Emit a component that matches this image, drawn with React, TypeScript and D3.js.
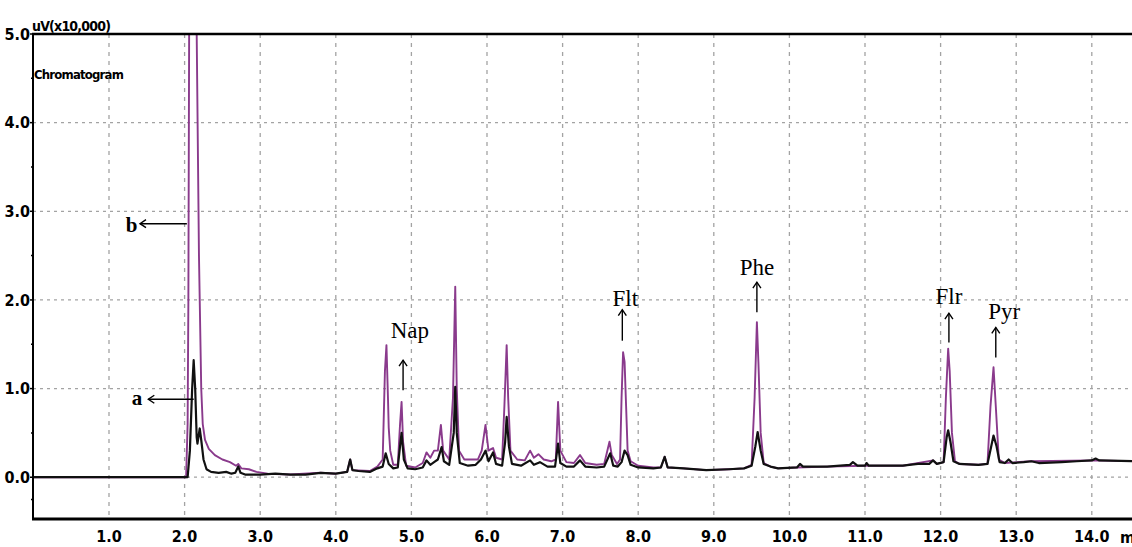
import React from 'react';
import * as d3 from 'd3';

// trace a (black) – retention time (min), signal (uV x10,000)
const traceA: [number, number][] = [
    [0, 0], [2.04, 0], [2.07, 0.3], [2.1, 1.0], [2.12, 1.32], [2.14, 1.0], [2.16, 0.45], [2.17, 0.38],
    [2.2, 0.55], [2.22, 0.42], [2.25, 0.2], [2.29, 0.09], [2.35, 0.06], [2.45, 0.05], [2.55, 0.06],
    [2.62, 0.04], [2.67, 0.05], [2.71, 0.12], [2.74, 0.05], [2.8, 0.03], [3.0, 0.03], [3.2, 0.04],
    [3.4, 0.03], [3.6, 0.03], [3.8, 0.05], [4.0, 0.04], [4.15, 0.06], [4.19, 0.2], [4.22, 0.08],
    [4.3, 0.07], [4.45, 0.06], [4.55, 0.1], [4.62, 0.12], [4.66, 0.27], [4.7, 0.15], [4.76, 0.1],
    [4.82, 0.11], [4.85, 0.35], [4.87, 0.5], [4.9, 0.2], [4.95, 0.1], [5.05, 0.09], [5.15, 0.11],
    [5.2, 0.19], [5.25, 0.14], [5.3, 0.17], [5.35, 0.2], [5.4, 0.34], [5.43, 0.18], [5.5, 0.14],
    [5.56, 0.5], [5.58, 1.02], [5.6, 0.5], [5.64, 0.16], [5.75, 0.13], [5.85, 0.14], [5.92, 0.2],
    [5.98, 0.3], [6.02, 0.18], [6.08, 0.28], [6.12, 0.15], [6.2, 0.13], [6.24, 0.4], [6.26, 0.68],
    [6.29, 0.35], [6.33, 0.15], [6.45, 0.13], [6.57, 0.19], [6.62, 0.14], [6.7, 0.17], [6.8, 0.12],
    [6.9, 0.12], [6.94, 0.38], [6.97, 0.16], [7.05, 0.12], [7.15, 0.12], [7.23, 0.19], [7.3, 0.12],
    [7.45, 0.11], [7.55, 0.12], [7.63, 0.27], [7.67, 0.13], [7.73, 0.12], [7.78, 0.17], [7.82, 0.3],
    [7.86, 0.25], [7.9, 0.14], [8.0, 0.11], [8.2, 0.1], [8.3, 0.11], [8.35, 0.23], [8.39, 0.11],
    [8.6, 0.1], [8.9, 0.08], [9.2, 0.09], [9.4, 0.1], [9.5, 0.13], [9.55, 0.35], [9.58, 0.51],
    [9.62, 0.3], [9.66, 0.15], [9.75, 0.12], [9.85, 0.1], [10.1, 0.11], [10.14, 0.15], [10.18, 0.12],
    [10.5, 0.12], [10.8, 0.14], [10.84, 0.17], [10.9, 0.13], [11.0, 0.13], [11.02, 0.16], [11.05, 0.13],
    [11.5, 0.13], [11.7, 0.15], [11.85, 0.15], [11.9, 0.19], [11.95, 0.15], [12.04, 0.17], [12.08, 0.45],
    [12.1, 0.53], [12.13, 0.4], [12.17, 0.18], [12.25, 0.15], [12.5, 0.14], [12.62, 0.15], [12.67, 0.35],
    [12.7, 0.47], [12.74, 0.35], [12.78, 0.17], [12.85, 0.16], [12.9, 0.2], [12.95, 0.16], [13.1, 0.17],
    [13.2, 0.18], [13.3, 0.16], [13.6, 0.17], [13.8, 0.18], [14.0, 0.19], [14.05, 0.21], [14.1, 0.19],
    [14.6, 0.18],
];

// trace b (purple)
const traceB: [number, number][] = [
    [0, 0], [2.02, 0], [2.04, 0.6], [2.05, 2.0], [2.06, 5.0], [2.08, 5.6], [2.13, 5.6], [2.16, 5.0],
    [2.19, 2.5], [2.22, 1.0], [2.24, 0.6], [2.27, 0.42], [2.32, 0.32], [2.4, 0.25], [2.5, 0.2],
    [2.6, 0.17], [2.68, 0.13], [2.71, 0.15], [2.75, 0.1], [2.85, 0.09], [2.95, 0.06], [3.1, 0.04],
    [3.4, 0.03], [3.8, 0.05], [4.0, 0.04], [4.15, 0.06], [4.19, 0.2], [4.22, 0.08], [4.45, 0.07],
    [4.55, 0.12], [4.62, 0.2], [4.65, 1.2], [4.67, 1.49], [4.69, 0.9], [4.7, 0.56], [4.72, 0.3],
    [4.76, 0.14], [4.82, 0.14], [4.85, 0.6], [4.87, 0.85], [4.89, 0.4], [4.93, 0.13], [5.05, 0.11],
    [5.15, 0.16], [5.2, 0.28], [5.25, 0.22], [5.3, 0.3], [5.35, 0.3], [5.39, 0.59], [5.42, 0.3],
    [5.5, 0.2], [5.55, 0.9], [5.58, 2.15], [5.6, 1.0], [5.63, 0.3], [5.7, 0.2], [5.8, 0.2], [5.88, 0.2],
    [5.93, 0.3], [5.98, 0.59], [6.02, 0.3], [6.06, 0.32], [6.08, 0.33], [6.12, 0.22], [6.2, 0.2],
    [6.23, 0.8], [6.26, 1.49], [6.28, 0.9], [6.31, 0.3], [6.4, 0.2], [6.5, 0.19], [6.57, 0.3],
    [6.62, 0.22], [6.68, 0.26], [6.75, 0.2], [6.85, 0.18], [6.91, 0.2], [6.94, 0.85], [6.97, 0.3],
    [7.05, 0.17], [7.15, 0.16], [7.23, 0.25], [7.3, 0.16], [7.45, 0.14], [7.55, 0.15], [7.62, 0.4],
    [7.65, 0.25], [7.72, 0.15], [7.76, 0.2], [7.78, 0.9], [7.8, 1.41], [7.82, 1.3], [7.84, 0.8],
    [7.86, 0.3], [7.9, 0.18], [8.0, 0.13], [8.2, 0.11], [8.3, 0.11], [8.35, 0.23], [8.39, 0.11],
    [8.6, 0.1], [8.9, 0.08], [9.2, 0.09], [9.4, 0.1], [9.5, 0.14], [9.54, 0.9], [9.57, 1.75],
    [9.59, 1.3], [9.62, 0.5], [9.66, 0.16], [9.75, 0.12], [9.85, 0.1], [10.1, 0.11], [10.5, 0.12],
    [11.0, 0.13], [11.5, 0.13], [11.9, 0.19], [11.95, 0.15], [12.04, 0.17], [12.07, 0.9], [12.1, 1.45],
    [12.12, 1.2], [12.15, 0.5], [12.19, 0.18], [12.25, 0.15], [12.5, 0.14], [12.62, 0.15], [12.66, 0.8],
    [12.7, 1.24], [12.73, 0.8], [12.77, 0.2], [12.85, 0.16], [13.2, 0.18], [14.0, 0.19], [14.6, 0.18],
];

const xTicks = [1, 2, 3, 4, 5, 6, 7, 8, 9, 10, 11, 12, 13, 14];
const yTicks = [0, 1, 2, 3, 4, 5];
const yMinorTicks = [-0.25, 0.5, 1.5, 2.5, 3.5, 4.5];

// peak labels: arrow at t from v0 (tail) to v1 (head), text centred at tx, baseline tv
const peakLabels = [
    { name: 'Nap', t: 4.89, v0: 0.98, v1: 1.32, tx: 4.98, tv: 1.57 },
    { name: 'Flt', t: 7.79, v0: 1.54, v1: 1.89, tx: 7.83, tv: 1.93 },
    { name: 'Phe', t: 9.57, v0: 1.86, v1: 2.2, tx: 9.57, tv: 2.28 },
    { name: 'Flr', t: 12.11, v0: 1.52, v1: 1.85, tx: 12.11, tv: 1.95 },
    { name: 'Pyr', t: 12.73, v0: 1.35, v1: 1.69, tx: 12.84, tv: 1.78 },
];

// trace labels: horizontal arrow from t0 (tail) to t1 (head) at v
const traceLabels = [
    { name: 'a', t0: 2.12, t1: 1.52, v: 0.88, tx: 1.37, tv: 0.82 },
    { name: 'b', t0: 2.03, t1: 1.41, v: 2.86, tx: 1.3, tv: 2.77 },
];

const W = 1132;
const H = 547;
const TOP = 34;
const BOTTOM = 519;
const LEFT = 33;

const TICK_FONT = '"Liberation Sans Narrow", "Arial Narrow", "DejaVu Sans Condensed", sans-serif';
const SERIF = '"Liberation Serif", "Times New Roman", serif';
const PURPLE = '#8a3a8c';
const GRID = '#a3a3a3';

const App = () => {
    const x = d3.scaleLinear().domain([0, 14]).range([33.4, 1091.8]);
    const y = d3.scaleLinear().domain([-0.46, 5]).range([518, TOP]);
    const fmt = d3.format('.1f');

    const line = d3.line<[number, number]>()
        .x(d => x(d[0]))
        .y(d => y(d[1]));

    return (
        <svg width={W} height={H} style={{ position: 'absolute', left: 0, top: 0, background: '#fff' }}>
            <defs>
                <clipPath id="plot-clip">
                    <rect x={LEFT} y={TOP} width={W - LEFT} height={BOTTOM - TOP} />
                </clipPath>
            </defs>

            {/* grid */}
            {xTicks.map(t => (
                <line key={`gx${t}`} x1={x(t)} x2={x(t)} y1={TOP} y2={BOTTOM}
                    stroke={GRID} strokeWidth={1.3} strokeDasharray="4 5" />
            ))}
            {yTicks.filter(v => v < 5).map(v => (
                <line key={`gy${v}`} x1={LEFT} x2={W} y1={y(v)} y2={y(v)}
                    stroke={GRID} strokeWidth={1.3} strokeDasharray="3 4" />
            ))}

            {/* traces */}
            <g clipPath="url(#plot-clip)" fill="none" strokeLinejoin="round">
                <path d={line(traceB) || ''} stroke={PURPLE} strokeWidth={1.9} />
                <path d={line(traceA) || ''} stroke="#111" strokeWidth={2.2} />
            </g>

            {/* frame */}
            <line x1={LEFT - 1} x2={W} y1={TOP} y2={TOP} stroke="#000" strokeWidth={2.5} />
            <line x1={LEFT - 1} x2={W} y1={BOTTOM} y2={BOTTOM} stroke="#000" strokeWidth={3} />
            <line x1={LEFT} x2={LEFT} y1={TOP} y2={BOTTOM} stroke="#000" strokeWidth={2} />

            {/* y axis */}
            {yTicks.map(v => (
                <g key={`yt${v}`}>
                    <line x1={LEFT - 3} x2={LEFT} y1={y(v)} y2={y(v)} stroke="#000" strokeWidth={1.5} />
                    <text x={LEFT - 3} y={y(v)} dy="0.36em" textAnchor="end"
                        fontFamily={TICK_FONT} fontWeight="bold" fontSize={16}>{fmt(v)}</text>
                </g>
            ))}
            {yMinorTicks.map(v => (
                <line key={`ym${v}`} x1={LEFT - 2} x2={LEFT} y1={y(v)} y2={y(v)} stroke="#000" strokeWidth={1.5} />
            ))}

            {/* x axis */}
            {xTicks.map(t => (
                <text key={`xt${t}`} x={x(t)} y={542} textAnchor="middle"
                    fontFamily={TICK_FONT} fontWeight="bold" fontSize={16}>{fmt(t)}</text>
            ))}
            <text x={1120} y={543} fontFamily={TICK_FONT} fontWeight="bold" fontSize={16}>min</text>

            {/* titles */}
            <text x={LEFT - 1} y={31} fontFamily={TICK_FONT} fontWeight="bold" fontSize={14}
                letterSpacing={-0.8}>uV(x10,000)</text>
            <text x={LEFT + 1} y={79} fontFamily={TICK_FONT} fontWeight="bold" fontSize={13}
                letterSpacing={-0.8}>Chromatogram</text>

            {/* annotations */}
            {peakLabels.map(p => (
                <g key={p.name}>
                    <line x1={x(p.t)} x2={x(p.t)} y1={y(p.v0)} y2={y(p.v1)} stroke="#000" strokeWidth={1.4} />
                    <path d={`M${x(p.t) - 4},${y(p.v1) + 6}L${x(p.t)},${y(p.v1)}L${x(p.t) + 4},${y(p.v1) + 6}`}
                        fill="none" stroke="#000" strokeWidth={1.4} />
                    <text x={x(p.tx)} y={y(p.tv)} textAnchor="middle" fontFamily={SERIF} fontSize={23}>{p.name}</text>
                </g>
            ))}
            {traceLabels.map(p => (
                <g key={p.name}>
                    <line x1={x(p.t0)} x2={x(p.t1)} y1={y(p.v)} y2={y(p.v)} stroke="#000" strokeWidth={1.4} />
                    <path d={`M${x(p.t1) + 6},${y(p.v) - 4}L${x(p.t1)},${y(p.v)}L${x(p.t1) + 6},${y(p.v) + 4}`}
                        fill="none" stroke="#000" strokeWidth={1.4} />
                    <text x={x(p.tx)} y={y(p.tv)} textAnchor="middle" fontFamily={SERIF} fontWeight="bold"
                        fontSize={21}>{p.name}</text>
                </g>
            ))}
        </svg>
    );
};

export default App;
